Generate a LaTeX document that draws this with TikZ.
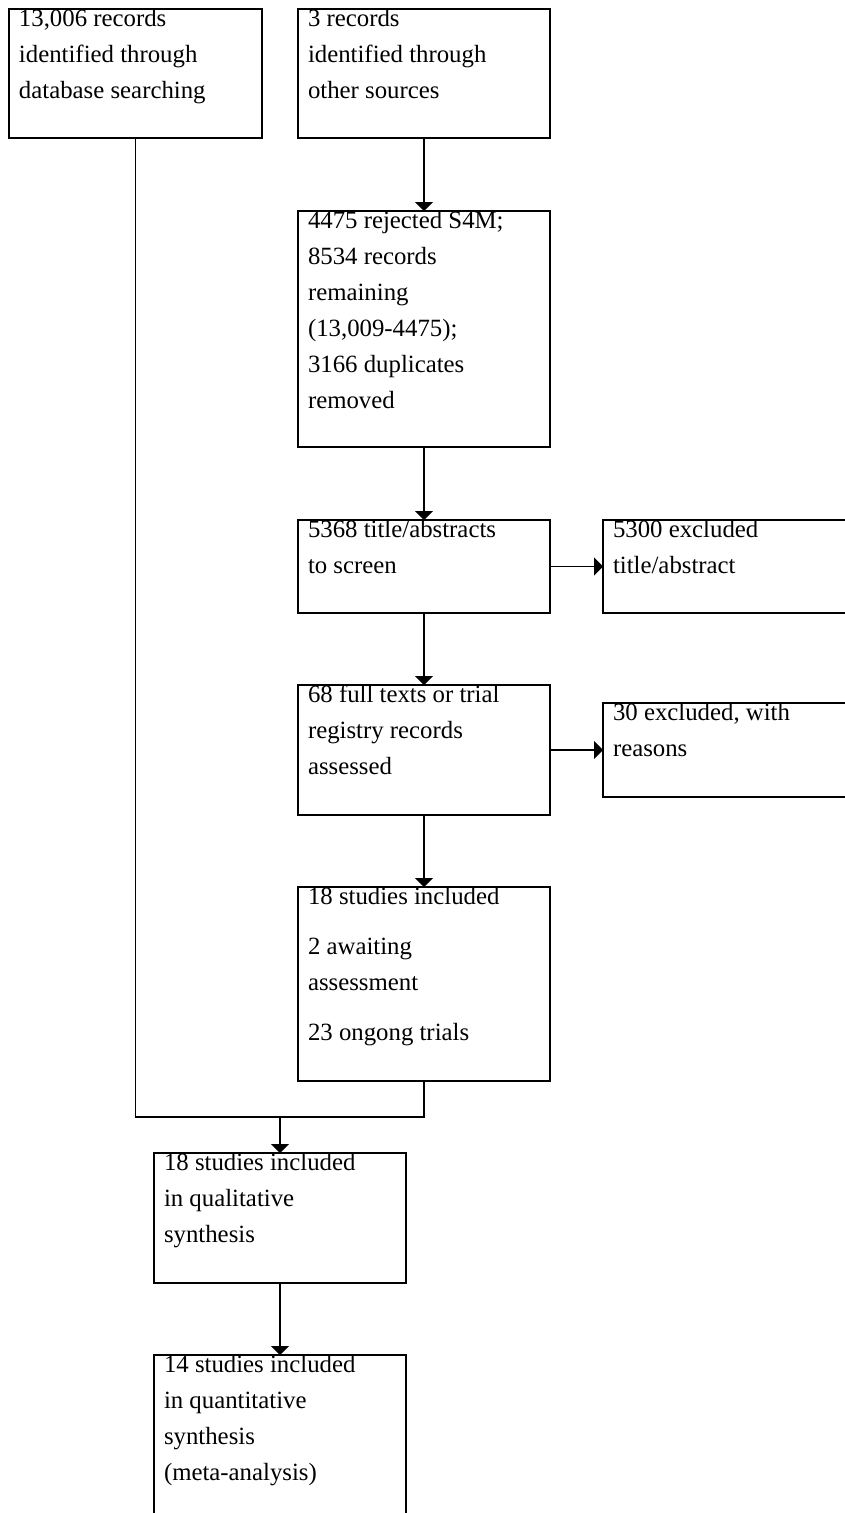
\documentclass[tikz,border=0pt]{standalone}
\usepackage{fontspec}
\setmainfont{Liberation Serif}
\usetikzlibrary{arrows.meta}
\newcommand{\boxtext}[3]{\parbox[t][#2][t]{#1}{\raggedright #3}}
\tikzset{
  flowbox/.style={draw, line width=1.8pt, inner xsep=10pt, inner ysep=0pt, outer sep=0pt,
    anchor=north west, font=\fontsize{24.8}{36}\selectfont},
  link/.style={line width=1.8pt},
  arr/.style={link, -{Triangle[length=9pt,width=18pt]}}
}
\begin{document}
\begin{tikzpicture}[x=1pt,y=-1pt]
\useasboundingbox (0,0) rectangle (845,1513);
\node[flowbox] (b1) at (9,9) {\boxtext{233pt}{129pt}{13,006 records\\identified through\\database searching}};
\node[flowbox] (b2) at (298,9) {\boxtext{232pt}{129pt}{3 records\\identified through\\other sources}};
\node[flowbox] (b3) at (298,211) {\boxtext{232pt}{236pt}{4475 rejected S4M;\\8534 records\\remaining\\(13,009-4475);\\3166 duplicates\\removed}};
\node[flowbox] (b4) at (298,520) {\boxtext{232pt}{93pt}{5368 title/abstracts\\to screen}};
\node[flowbox] (b5) at (603,520) {\boxtext{240pt}{93pt}{5300 excluded\\title/abstract}};
\node[flowbox] (b6) at (298,685) {\boxtext{232pt}{130pt}{68 full texts or trial\\registry records\\assessed}};
\node[flowbox] (b7) at (603,703) {\boxtext{240pt}{94pt}{30 excluded, with\\reasons}};
\node[flowbox] (b8) at (298,887) {\boxtext{232pt}{194pt}{18 studies included\\[14pt]2 awaiting\\assessment\\[14pt]23 ongong trials}};
\node[flowbox] (b9) at (154,1153) {\boxtext{232pt}{130pt}{18 studies included\\in qualitative\\synthesis}};
\node[flowbox] (b10) at (154,1355) {\boxtext{232pt}{200pt}{14 studies included\\in quantitative\\synthesis\\(meta-analysis)}};
\coordinate (j) at (280,1117);
\draw[arr] (b2.south) -- (b3.north);
\draw[arr] (b3.south) -- (b4.north);
\draw[arr] (b4.east) -- (b5.west);
\draw[arr] (b4.south) -- (b6.north);
\draw[arr] (b6.east) -- (b7.west);
\draw[arr] (b6.south) -- (b8.north);
\draw[link] (b1.south) |- (j) -| (b8.south);
\draw[arr] (j) -- (b9.north);
\draw[arr] (b9.south) -- (b10.north);
\end{tikzpicture}
\end{document}
